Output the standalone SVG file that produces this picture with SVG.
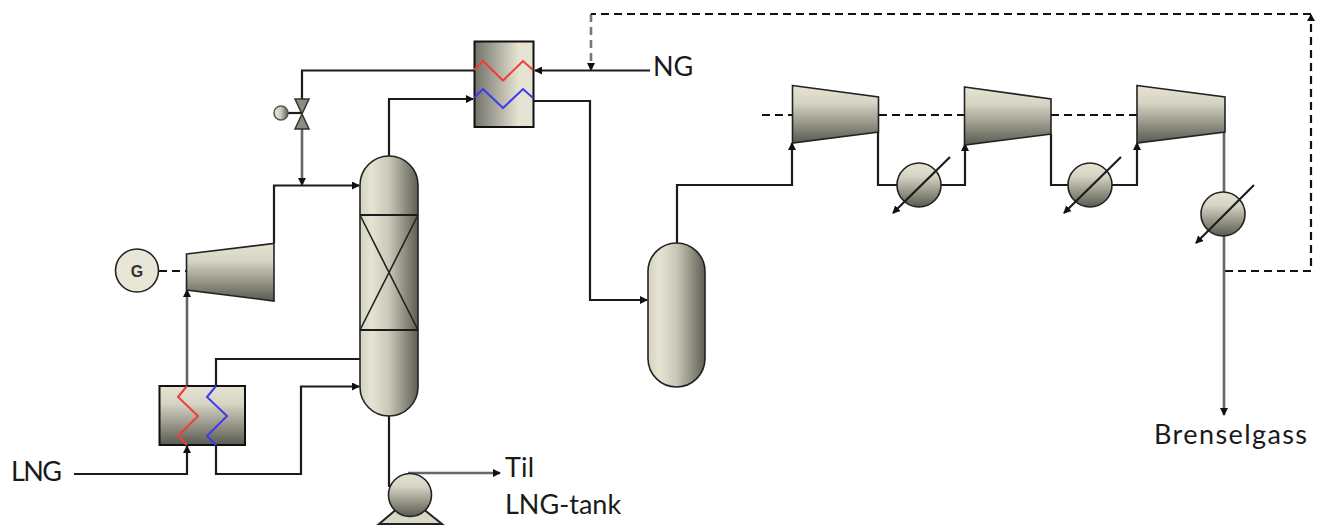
<svg xmlns="http://www.w3.org/2000/svg" width="1326" height="529" viewBox="0 0 1326 529">
<style>
.e{stroke:#222;stroke-width:1.6}
.b{stroke:#111;stroke-width:2}
.w{fill:none;stroke-width:2}
.c{fill:none;stroke:#1c1c1c;stroke-width:2.2}
.g{fill:none;stroke:#666;stroke-width:2.6}
.d{fill:none;stroke:#111;stroke-width:2.2;stroke-dasharray:8 5}
.t{font-family:Lato,"Open Sans",sans-serif;font-size:27px;fill:#1a1a1a}
</style>
<defs>
<marker id="a" markerWidth="8" markerHeight="8" refX="7" refY="4" orient="auto" markerUnits="userSpaceOnUse" viewBox="0 0 8 8"><path d="M0 0L8 4L0 8z" fill="#111"/></marker>
<linearGradient id="v" x1="0" y1="0" x2="0" y2="1"><stop offset="0" stop-color="#e6e3d2"/><stop offset=".3" stop-color="#d6d4c3"/><stop offset="1" stop-color="#5a5a50"/></linearGradient>
<linearGradient id="h" x1="0" y1="0" x2="1" y2="0"><stop offset="0" stop-color="#d4d2c2"/><stop offset=".2" stop-color="#e6e3d2"/><stop offset=".5" stop-color="#c9c7b7"/><stop offset="1" stop-color="#5e5e54"/></linearGradient>
<linearGradient id="x" x1="0" y1="0" x2="1" y2="0"><stop offset="0" stop-color="#72726a"/><stop offset=".75" stop-color="#e6e3d2"/><stop offset="1" stop-color="#e6e3d2"/></linearGradient>
</defs>
<g id="connectors">
<path class="c" d="M74 474H187V446" marker-end="url(#a)"/>
<path class="g" d="M187 386V290" marker-end="url(#a)"/>
<path class="c" d="M216 386V359H360"/>
<path class="c" d="M216 445V474H301V386.500H359" marker-end="url(#a)"/>
<path class="c" d="M274 243V185.500H359" marker-end="url(#a)"/>
<path class="c" d="M474 70.500H302V99"/>
<path class="g" d="M302 129V185" marker-end="url(#a)"/>
<path class="c" d="M389 156V99H473" marker-end="url(#a)"/>
<path class="c" d="M650 70.500H535" marker-end="url(#a)"/>
<path class="c" d="M534 101H590V300H647" marker-end="url(#a)"/>
<path class="d" style="stroke:#777;stroke-width:2.6" d="M591 14V70" marker-end="url(#a)"/>
<path class="d" d="M1225 271H1311V15"/>
<path class="d" d="M1311 14H591"/>
<path d="M1311 14L1307 21H1315z" fill="#111"/>
<path class="c" d="M677 243V185H792V143" marker-end="url(#a)"/>
<path class="c" d="M878 132V185H897"/>
<path class="c" d="M941 185H965V144" marker-end="url(#a)"/>
<path class="c" d="M1051 134V185H1068"/>
<path class="c" d="M1112 185H1137V143" marker-end="url(#a)"/>
<path class="g" d="M1224 132V192"/>
<path class="g" d="M1224 236V415" marker-end="url(#a)"/>
<path class="c" d="M389 416V487"/>
<path class="g" d="M408 473H500" marker-end="url(#a)"/>
<path class="d" d="M762 115H792M879 115H964M1051 115H1137M159 271H186"/>
<path class="c" d="M288 113H302"/>
</g>
<g id="hx-top">
<rect x="474.500" y="41.500" width="59" height="85.500" fill="url(#x)" class="b"/>
<path class="w" stroke="#f03c3c" d="M474 70L483 61L503 80.500L523 61L533 70"/>
<path class="w" stroke="#3c3cf0" d="M474 98L483 89L503 108L523 89L533 98"/>
</g>
<g id="valve">
<circle cx="281" cy="113" r="7" fill="url(#h)" stroke="#555" stroke-width="1.500"/>
<path d="M295 99H309L302 114L295 129H309L302 114z" fill="#8c8c80" stroke="#333" stroke-width="1.500"/>
</g>
<g id="column">
<path d="M360 185A29 29 0 0 1 418 185V387A29 29 0 0 1 360 387z" fill="url(#h)" class="e"/>
<path d="M360 215H418M360 330H418" fill="none" stroke="#1c1c1c" stroke-width="2"/>
<path d="M360 215L418 330M418 215L360 330" fill="none" stroke="#222" stroke-width="1.600"/>
</g>
<g id="vessel">
<path d="M648 271.500A28.500 28.500 0 0 1 705 271.500V358.500A28.500 28.500 0 0 1 648 358.500z" fill="url(#h)" class="e"/>
</g>
<g id="compressor-1"><path d="M792.500 85.500L878.500 97V132L792.500 143z" fill="url(#v)" class="e"/></g>
<g id="compressor-2"><path d="M964.500 87L1051 99V134L964.500 145z" fill="url(#v)" class="e"/></g>
<g id="compressor-3"><path d="M1137 85.500L1225 97V132L1137 143z" fill="url(#v)" class="e"/></g>
<g id="cooler-1">
<circle cx="919" cy="185" r="22" fill="url(#v)" class="e"/>
<path class="c" d="M950 157L893 213" marker-end="url(#a)"/>
</g>
<g id="cooler-2">
<circle cx="1090" cy="185" r="22" fill="url(#v)" class="e"/>
<path class="c" d="M1121 157L1064 213" marker-end="url(#a)"/>
</g>
<g id="cooler-3">
<circle cx="1223" cy="214" r="22" fill="url(#v)" class="e"/>
<path class="c" d="M1254 185L1196 243" marker-end="url(#a)"/>
</g>
<g id="turbine"><path d="M186.500 254L274 243.500V301L186.500 290z" fill="url(#v)" class="e"/></g>
<g id="generator">
<circle cx="137" cy="270.500" r="21.500" fill="#e8e6d6" class="e"/>
<text x="137" y="276.500" text-anchor="middle" style="font-family:'Liberation Sans',sans-serif;font-size:16px;font-weight:bold;fill:#333">G</text>
</g>
<g id="hx-bottom">
<rect x="159.500" y="386" width="85.500" height="59" fill="url(#v)" class="b"/>
<path class="w" stroke="#f03c3c" d="M187 386L178 397L198 416L178 436L187 445"/>
<path class="w" stroke="#3c3cf0" d="M216 386L207 397L227 416L207 436L216 445"/>
</g>
<g id="pump">
<path d="M379 524L398 508H422L442 524z" fill="#d9d7c6" stroke="#222" stroke-width="2"/>
<circle cx="410" cy="495" r="21.500" fill="url(#v)" class="e"/>
</g>
<g id="labels">
<text class="t" x="653" y="76">NG</text>
<text class="t" x="11" y="481" textLength="51">LNG</text>
<text class="t" x="505" y="477" textLength="29">Til</text>
<text class="t" x="505" y="514">LNG-tank</text>
<text class="t" x="1154" y="444" textLength="153">Brenselgass</text>
</g>
</svg>
